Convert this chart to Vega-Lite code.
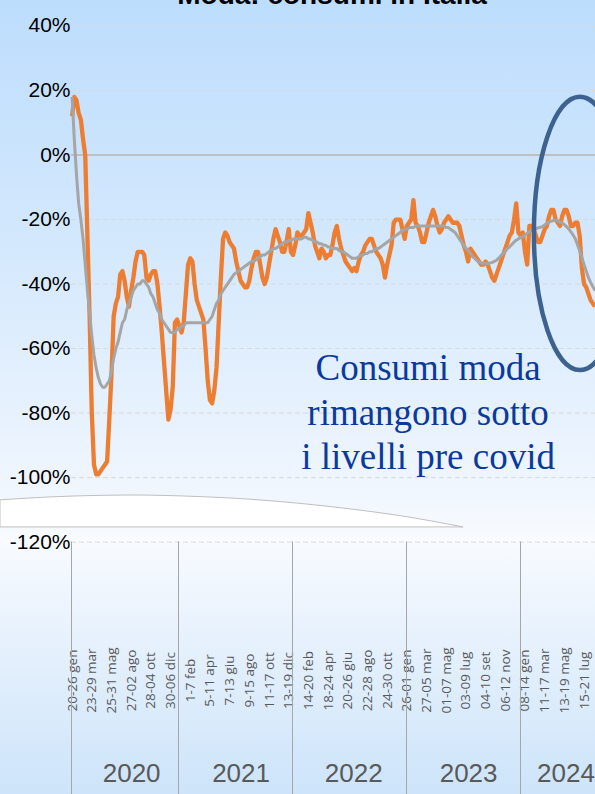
{
  "$schema": "https://vega.github.io/schema/vega-lite/v6.json",
  "width": 595,
  "height": 794,
  "autosize": {"type": "none"},
  "padding": 0,
  "config": {
    "view": {"stroke": null},
    "axis": {"grid": false, "domain": false, "ticks": false, "title": null}
  },
  "data": {
    "values": [
      {"w":0,"v":12,"m":18},{"w":1,"v":18,"m":5},{"w":2,"v":17,"m":-6},{"w":3,"v":13,"m":-15},{"w":4,"v":11,"m":-20},
      {"w":5,"v":5,"m":-26},{"w":6,"v":0,"m":-34},{"w":7,"v":-25,"m":-42},{"w":8,"v":-50,"m":-49},{"w":9,"v":-80,"m":-56},
      {"w":10,"v":-96,"m":-62},{"w":11,"v":-99,"m":-66},{"w":12,"v":-99,"m":-69},{"w":13,"v":-98,"m":-71},{"w":14,"v":-97,"m":-72},
      {"w":15,"v":-96,"m":-72},{"w":16,"v":-95,"m":-71},{"w":17,"v":-82,"m":-70},{"w":18,"v":-68,"m":-67},{"w":19,"v":-50,"m":-63},
      {"w":20,"v":-46,"m":-60},{"w":21,"v":-44,"m":-58},{"w":22,"v":-37,"m":-55},{"w":23,"v":-36,"m":-52},{"w":24,"v":-39,"m":-51},
      {"w":25,"v":-44,"m":-48},{"w":26,"v":-47,"m":-46},{"w":27,"v":-42,"m":-44},{"w":28,"v":-38,"m":-42},{"w":29,"v":-33,"m":-41},
      {"w":30,"v":-30,"m":-40},{"w":31,"v":-30,"m":-40},{"w":32,"v":-30,"m":-39},{"w":33,"v":-31,"m":-39},{"w":34,"v":-38,"m":-40},
      {"w":35,"v":-39,"m":-41},{"w":36,"v":-37,"m":-43},{"w":37,"v":-36,"m":-44},{"w":38,"v":-36,"m":-46},{"w":39,"v":-40,"m":-48},
      {"w":40,"v":-47,"m":-49},{"w":41,"v":-55,"m":-51},{"w":42,"v":-64,"m":-52},{"w":43,"v":-73,"m":-53},{"w":44,"v":-82,"m":-54},
      {"w":45,"v":-79,"m":-55},{"w":46,"v":-72,"m":-55},{"w":47,"v":-52,"m":-55},{"w":48,"v":-51,"m":-54},{"w":49,"v":-53,"m":-54},
      {"w":50,"v":-55,"m":-53},{"w":51,"v":-52,"m":-53},{"w":52,"v":-43,"m":-52},{"w":53,"v":-34,"m":-52},{"w":54,"v":-32,"m":-52},
      {"w":55,"v":-33,"m":-52},{"w":56,"v":-40,"m":-52},{"w":57,"v":-45,"m":-52},{"w":58,"v":-47,"m":-52},{"w":59,"v":-49,"m":-52},
      {"w":60,"v":-51,"m":-52},{"w":61,"v":-60,"m":-52},{"w":62,"v":-70,"m":-52},{"w":63,"v":-76,"m":-51},{"w":64,"v":-77,"m":-50},
      {"w":65,"v":-73,"m":-48},{"w":66,"v":-66,"m":-46},{"w":67,"v":-52,"m":-45},{"w":68,"v":-38,"m":-43},{"w":69,"v":-26,"m":-42},
      {"w":70,"v":-24,"m":-41},{"w":71,"v":-25,"m":-40},{"w":72,"v":-27,"m":-39},{"w":73,"v":-28,"m":-38},{"w":74,"v":-29,"m":-37},
      {"w":75,"v":-33,"m":-36.5},{"w":76,"v":-36,"m":-36},{"w":77,"v":-39,"m":-35.5},{"w":78,"v":-40,"m":-35},{"w":79,"v":-41,"m":-34.5},
      {"w":80,"v":-41,"m":-34},{"w":81,"v":-39,"m":-33.5},{"w":82,"v":-35,"m":-33},{"w":83,"v":-32,"m":-33},{"w":84,"v":-30,"m":-32.5},
      {"w":85,"v":-30,"m":-32},{"w":86,"v":-34,"m":-31.5},{"w":87,"v":-38,"m":-31},{"w":88,"v":-40,"m":-31},{"w":89,"v":-38,"m":-30.5},
      {"w":90,"v":-34,"m":-30},{"w":91,"v":-30,"m":-29.5},{"w":92,"v":-26,"m":-29},{"w":93,"v":-23,"m":-29},{"w":94,"v":-25,"m":-28.5},
      {"w":95,"v":-27,"m":-28},{"w":96,"v":-30,"m":-27.5},{"w":97,"v":-30,"m":-27},{"w":98,"v":-27,"m":-27},{"w":99,"v":-23,"m":-26.5},
      {"w":100,"v":-30,"m":-26.5},{"w":101,"v":-31,"m":-26},{"w":102,"v":-28,"m":-26},{"w":103,"v":-24,"m":-26},{"w":104,"v":-25,"m":-26},
      {"w":105,"v":-25,"m":-26},{"w":106,"v":-24,"m":-25.5},{"w":107,"v":-23,"m":-25.5},{"w":108,"v":-18,"m":-26},{"w":109,"v":-21,"m":-26},
      {"w":110,"v":-24,"m":-26.5},{"w":111,"v":-28,"m":-27},{"w":112,"v":-30,"m":-27},{"w":113,"v":-32,"m":-27.5},{"w":114,"v":-29,"m":-27.5},
      {"w":115,"v":-30,"m":-28},{"w":116,"v":-32,"m":-28},{"w":117,"v":-31,"m":-28.5},{"w":118,"v":-31,"m":-28.5},{"w":119,"v":-28,"m":-29},
      {"w":120,"v":-24,"m":-29},{"w":121,"v":-22,"m":-29},{"w":122,"v":-26,"m":-29.5},{"w":123,"v":-29,"m":-30},{"w":124,"v":-31,"m":-30},
      {"w":125,"v":-33,"m":-30.5},{"w":126,"v":-34,"m":-31},{"w":127,"v":-35,"m":-31.5},{"w":128,"v":-36,"m":-32},{"w":129,"v":-35,"m":-32},
      {"w":130,"v":-36,"m":-32},{"w":131,"v":-33,"m":-31.5},{"w":132,"v":-31,"m":-31},{"w":133,"v":-30,"m":-31},{"w":134,"v":-28,"m":-30.5},
      {"w":135,"v":-27,"m":-30.5},{"w":136,"v":-26,"m":-30},{"w":137,"v":-26,"m":-30},{"w":138,"v":-28,"m":-29.5},{"w":139,"v":-30,"m":-29},
      {"w":140,"v":-31,"m":-29},{"w":141,"v":-32,"m":-28.5},{"w":142,"v":-34,"m":-28},{"w":143,"v":-38,"m":-27.5},{"w":144,"v":-34,"m":-27},
      {"w":145,"v":-31,"m":-26.5},{"w":146,"v":-28,"m":-26},{"w":147,"v":-21,"m":-25.5},{"w":148,"v":-20,"m":-25},{"w":149,"v":-20,"m":-24.5},
      {"w":150,"v":-20,"m":-24},{"w":151,"v":-23,"m":-23.5},{"w":152,"v":-26,"m":-23},{"w":153,"v":-22,"m":-23},{"w":154,"v":-21,"m":-22.5},
      {"w":155,"v":-20,"m":-22.5},{"w":156,"v":-14,"m":-22.5},{"w":157,"v":-21,"m":-22},{"w":158,"v":-22,"m":-22},{"w":159,"v":-24,"m":-22},
      {"w":160,"v":-27,"m":-22},{"w":161,"v":-27,"m":-22},{"w":162,"v":-24,"m":-22},{"w":163,"v":-21,"m":-22},{"w":164,"v":-19,"m":-22},
      {"w":165,"v":-17,"m":-22},{"w":166,"v":-19,"m":-22},{"w":167,"v":-22,"m":-22},{"w":168,"v":-24,"m":-22},{"w":169,"v":-23,"m":-22},
      {"w":170,"v":-21,"m":-22},{"w":171,"v":-20,"m":-22.5},{"w":172,"v":-19,"m":-22.5},{"w":173,"v":-20,"m":-23},{"w":174,"v":-21,"m":-23.5},
      {"w":175,"v":-21,"m":-24},{"w":176,"v":-21,"m":-25},{"w":177,"v":-22,"m":-26},{"w":178,"v":-25,"m":-27},{"w":179,"v":-28,"m":-28},
      {"w":180,"v":-30,"m":-29},{"w":181,"v":-33,"m":-29.5},{"w":182,"v":-29,"m":-30.5},{"w":183,"v":-30,"m":-31.5},{"w":184,"v":-31,"m":-32},
      {"w":185,"v":-32,"m":-32.7},{"w":186,"v":-33,"m":-33.2},{"w":187,"v":-34,"m":-33.5},{"w":188,"v":-34,"m":-33.6},{"w":189,"v":-33,"m":-33.6},
      {"w":190,"v":-34,"m":-33.6},{"w":191,"v":-36,"m":-33.5},{"w":192,"v":-38,"m":-33.3},{"w":193,"v":-39,"m":-33},{"w":194,"v":-37,"m":-32.6},
      {"w":195,"v":-35,"m":-32},{"w":196,"v":-33,"m":-31.2},{"w":197,"v":-31,"m":-30.5},{"w":198,"v":-29,"m":-29.8},{"w":199,"v":-27,"m":-29},
      {"w":200,"v":-25,"m":-28.4},{"w":201,"v":-24,"m":-27.7},{"w":202,"v":-20,"m":-27},{"w":203,"v":-15,"m":-26.4},{"w":204,"v":-24,"m":-26},
      {"w":205,"v":-25,"m":-25.6},{"w":206,"v":-24,"m":-25.3},{"w":207,"v":-30,"m":-24.8},{"w":208,"v":-34,"m":-24.3},{"w":209,"v":-22,"m":-23.8},
      {"w":210,"v":-22,"m":-23.4},{"w":211,"v":-23,"m":-23},{"w":212,"v":-25,"m":-22.8},{"w":213,"v":-27,"m":-22.6},{"w":214,"v":-27,"m":-22.4},
      {"w":215,"v":-25,"m":-22.2},{"w":216,"v":-23,"m":-21.7},{"w":217,"v":-22,"m":-21.2},{"w":218,"v":-19,"m":-20.8},{"w":219,"v":-17,"m":-20.5},
      {"w":220,"v":-17,"m":-20.3},{"w":221,"v":-20,"m":-20.2},{"w":222,"v":-21,"m":-20.4},{"w":223,"v":-22,"m":-20.8},{"w":224,"v":-19,"m":-21.1},
      {"w":225,"v":-17,"m":-21.6},{"w":226,"v":-17,"m":-22.2},{"w":227,"v":-19,"m":-22.9},{"w":228,"v":-22,"m":-23.8},{"w":229,"v":-22,"m":-24.8},
      {"w":230,"v":-21,"m":-26},{"w":231,"v":-21,"m":-27.8},{"w":232,"v":-25,"m":-29.8},{"w":233,"v":-35,"m":-31.8},{"w":234,"v":-40,"m":-34},
      {"w":235,"v":-41,"m":-36},{"w":236,"v":-43,"m":-38},{"w":237,"v":-45,"m":-39.5},{"w":238,"v":-46,"m":-40.8},{"w":239,"v":-47,"m":-42}
    ]
  },
  "resolve": {"axis": {"x": "independent", "y": "independent"}},
  "layer": [
    {
      "description": "slide background: blue at the top, near white under the plot, blue again at the foot",
      "data": {"values": [{}]},
      "mark": {
        "type": "rect",
        "fill": {
          "gradient": "linear", "x1": 0, "y1": 0, "x2": 0, "y2": 1,
          "stops": [
            {"offset": 0, "color": "#BDDDFD"},
            {"offset": 0.3, "color": "#D3E8FD"},
            {"offset": 0.6, "color": "#EEF5FE"},
            {"offset": 0.68, "color": "#F8FBFF"},
            {"offset": 0.78, "color": "#EAF3FD"},
            {"offset": 1, "color": "#CDE4FA"}
          ]
        }
      }
    },
    {
      "data": {"values": [{"g": 40}, {"g": 20}, {"g": -20}, {"g": -40}, {"g": -60}, {"g": -80}, {"g": -100}, {"g": -120}]},
      "mark": {"type": "rule", "color": "#D9D9D9", "strokeWidth": 1, "strokeDash": [5, 3]},
      "encoding": {
        "x": {"datum": -0.5, "type": "quantitative", "scale": {"domain": [-32.95, 239], "nice": false, "zero": false}, "axis": null},
        "x2": {"datum": 239},
        "y": {
          "field": "g", "type": "quantitative",
          "scale": {"domain": [-198.1, 48.06], "nice": false, "zero": false},
          "axis": {
            "orient": "left", "offset": -71, "zindex": 2,
            "values": [40, 20, 0, -20, -40, -60, -80, -100, -120],
            "labelExpr": "datum.value + '%'",
            "labelPadding": 1, "labelFont": "Liberation Sans", "labelFontSize": 21,
            "labelColor": "#000000", "labelAlign": "right", "labelBaseline": "middle",
            "labelOverlap": false, "labelFlush": false, "labelBound": false
          }
        }
      }
    },
    {
      "data": {"values": [{}]},
      "mark": {"type": "rule", "color": "#BFBFBF", "strokeWidth": 2},
      "encoding": {
        "x": {"datum": -0.5, "type": "quantitative", "axis": null},
        "x2": {"datum": 239},
        "y": {"datum": 0, "type": "quantitative", "axis": null}
      }
    },
    {
      "description": "white arc-topped panel under the -100% line",
      "data": {"values": [
        {"w": -32.95, "top": -106.9}, {"w": -10.1, "top": -106.0}, {"w": 12.75, "top": -105.5},
        {"w": 26.5, "top": -105.4}, {"w": 58.5, "top": -105.9}, {"w": 81.3, "top": -106.7},
        {"w": 104.2, "top": -108.0}, {"w": 127.0, "top": -109.7}, {"w": 149.9, "top": -111.8},
        {"w": 178.7, "top": -115.3}
      ]},
      "mark": {"type": "area", "fill": "#FFFFFF", "stroke": "#BFBFBF", "strokeWidth": 1, "interpolate": "monotone"},
      "encoding": {
        "x": {"field": "w", "type": "quantitative", "axis": null},
        "y": {"field": "top", "type": "quantitative", "axis": null},
        "y2": {"datum": -115.3}
      }
    },
    {
      "mark": {"type": "line", "color": "#ED7D31", "strokeWidth": 4.3, "strokeJoin": "round"},
      "encoding": {
        "x": {
          "field": "w", "type": "quantitative",
          "axis": {
            "orient": "bottom", "offset": -253, "zindex": 2,
            "values": [0, 9, 18, 27, 36, 45, 54, 63, 72, 81, 90, 99, 108, 117, 126, 135, 144, 153, 162, 171, 180, 189, 198, 207, 216, 225, 234],
            "labelExpr": "['20-26 gen','23-29 mar','25-31 mag','27-02 ago','28-04 ott','30-06 dic','1-7 feb','5-11 apr','7-13 giu','9-15 ago','11-17 ott','13-19 dic','14-20 feb','18-24 apr','20-26 giu','22-28 ago','24-30 ott','26-01 gen','27-05 mar','01-07 mag','03-09 lug','04-10 set','06-12 nov','08-14 gen','11-17 mar','13-19 mag','15-21 lug'][round(datum.value / 9)]",
            "labelAngle": 270, "labelAlign": "center", "labelBaseline": "middle",
            "labelPadding": 139, "labelFont": "Open Sans", "labelFontSize": 13.5,
            "labelColor": "#595959", "labelOverlap": false, "labelFlush": false, "labelBound": false
          }
        },
        "y": {"field": "v", "type": "quantitative", "axis": null}
      }
    },
    {
      "mark": {"type": "line", "color": "#A5A5A5", "strokeWidth": 3, "strokeJoin": "round"},
      "encoding": {
        "x": {
          "field": "w", "type": "quantitative",
          "axis": {
            "orient": "bottom", "offset": -253, "zindex": 2,
            "values": [-0.5, 48.5, 100.5, 152.5, 204.5],
            "ticks": true, "tickSize": 253, "tickColor": "#A6A6A6", "tickWidth": 1,
            "labels": false
          }
        },
        "y": {"field": "m", "type": "quantitative", "axis": null}
      }
    },
    {
      "description": "ring around the latest weeks",
      "data": {"values": [{}]},
      "mark": {
        "type": "point", "filled": false, "stroke": "#3E6290", "strokeWidth": 4.5, "opacity": 1,
        "size": 74747,
        "shape": "M0.3365,0C0.3365,0.5523,0.1859,1,0,1C-0.1859,1,-0.3365,0.5523,-0.3365,0C-0.3365,-0.5523,-0.1859,-1,0,-1C0.1859,-1,0.3365,-0.5523,0.3365,0Z"
      },
      "encoding": {
        "x": {
          "datum": 232.1, "type": "quantitative",
          "axis": {
            "orient": "bottom", "offset": -253, "zindex": 2,
            "values": [27, 77, 128.5, 181, 225.5],
            "labelExpr": "datum.value < 49 ? '2020' : datum.value < 101 ? '2021' : datum.value < 153 ? '2022' : datum.value < 205 ? '2023' : '2024'",
            "labelAngle": 0, "labelAlign": "center", "labelBaseline": "middle",
            "labelPadding": 232, "labelFont": "Liberation Sans", "labelFontSize": 26,
            "labelColor": "#595959", "labelOverlap": false, "labelFlush": false, "labelBound": false
          }
        },
        "y": {"datum": -24.3, "type": "quantitative", "axis": null}
      }
    },
    {
      "data": {"values": [{}]},
      "mark": {
        "type": "text",
        "text": ["Consumi moda", "rimangono sotto", "i livelli pre covid"],
        "font": "Liberation Serif", "fontSize": 37, "lineHeight": 44.5,
        "color": "#0A3A9C", "align": "center", "baseline": "alphabetic"
      },
      "encoding": {
        "x": {"datum": 162.7, "type": "quantitative", "axis": null},
        "y": {"datum": -69.8, "type": "quantitative", "axis": null}
      }
    },
    {
      "data": {"values": [{}]},
      "mark": {
        "type": "text", "text": "Moda: consumi in Italia",
        "font": "Liberation Sans", "fontSize": 28, "fontWeight": "bold",
        "color": "#000000", "align": "center", "baseline": "alphabetic"
      },
      "encoding": {
        "x": {"datum": 118.8, "type": "quantitative", "axis": null},
        "y": {"datum": 46.8, "type": "quantitative", "axis": null}
      }
    }
  ]
}
